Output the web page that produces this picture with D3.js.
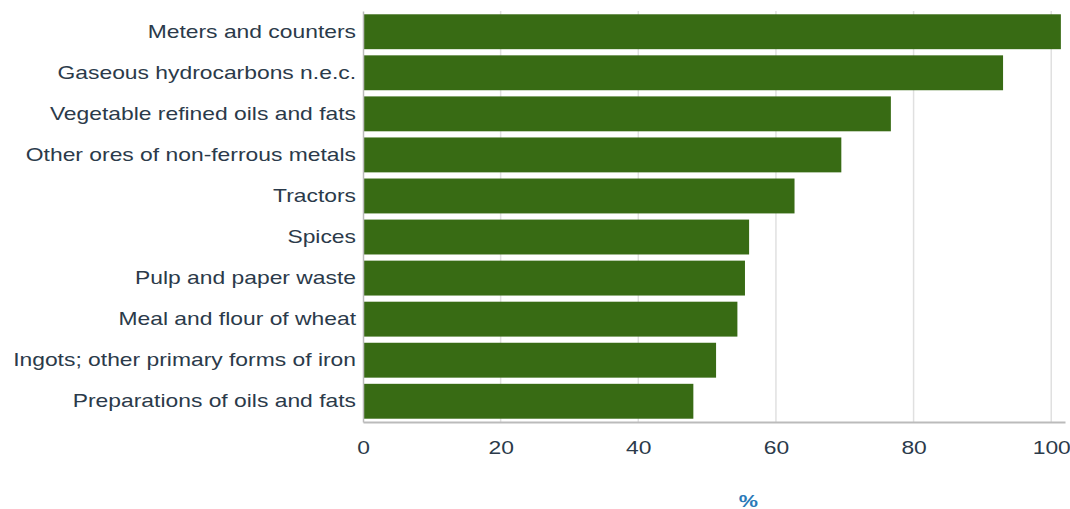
<!DOCTYPE html>
<html>
<head>
<meta charset="utf-8">
<script src="https://cdn.jsdelivr.net/npm/d3@7"></script>
<style>
  body { margin: 0; background: #fff; }
  svg text { font-family: "Liberation Sans", Arial, sans-serif; }
</style>
</head>
<body>
<div id="wrapper"></div>
<script>
const categories = [
    "Meters and counters",
    "Gaseous hydrocarbons n.e.c.",
    "Vegetable refined oils and fats",
    "Other ores of non-ferrous metals",
    "Tractors",
    "Spices",
    "Pulp and paper waste",
    "Meal and flour of wheat",
    "Ingots; other primary forms of iron",
    "Preparations of oils and fats"
];
const values = [101.4, 93.0, 76.7, 69.5, 62.7, 56.1, 55.5, 54.4, 51.3, 48.0];
const xTicks = [0, 20, 40, 60, 80, 100];
const axisTitle = "%";

const data = categories.map((c, i) => ({ name: c, value: values[i] }));

const dimension = {
    width: 1070,
    height: 509,
    margin: { top: 11, left: 363, bottom: 87, right: 5 }
};
dimension.boundedWidth = dimension.width - dimension.margin.left - dimension.margin.right;
dimension.boundedHeight = dimension.height - dimension.margin.top - dimension.margin.bottom;

const svg = d3.select("#wrapper").append("svg")
    .attr("width", dimension.width)
    .attr("height", dimension.height);

const bounded = svg.append("g")
    .attr("transform", `translate(${dimension.margin.left},${dimension.margin.top})`);

const xScaler = d3.scaleLinear()
    .domain([0, 102])
    .range([0, dimension.boundedWidth]);

const yScaler = d3.scaleBand()
    .domain(categories)
    .range([0, dimension.boundedHeight])
    .paddingInner(0.15)
    .paddingOuter(0.08);

// gridlines
bounded.append("g")
    .selectAll("line")
    .data(xTicks.slice(1))
    .join("line")
    .attr("x1", d => xScaler(d))
    .attr("x2", d => xScaler(d))
    .attr("y1", 0)
    .attr("y2", dimension.boundedHeight)
    .attr("stroke", "#e0e0e0")
    .attr("stroke-width", 1.5);

// bars
bounded.append("g")
    .selectAll("rect")
    .data(data)
    .join("rect")
    .attr("x", 0)
    .attr("y", d => yScaler(d.name))
    .attr("width", d => xScaler(d.value))
    .attr("height", yScaler.bandwidth())
    .attr("fill", "#386b14");

// all text in the source is drawn a bit wide
const stretch = 1.27;

// y axis
const yAxis = d3.axisLeft(yScaler).tickSize(0).tickPadding(7);
const yG = bounded.append("g").call(yAxis);
yG.select(".domain").attr("stroke", "#bbb").attr("stroke-width", 1.5);
yG.selectAll("text")
    .attr("font-size", 18)
    .attr("fill", "#2b3a4a")
    .attr("x", -7 / stretch)
    .attr("transform", `scale(${stretch},1)`);

// x axis
const xAxis = d3.axisBottom(xScaler).tickValues(xTicks).tickSize(0).tickPadding(19);
const xG = bounded.append("g")
    .attr("transform", `translate(0,${dimension.boundedHeight})`)
    .call(xAxis);
xG.select(".domain").attr("stroke", "#bbb").attr("stroke-width", 2);
xG.selectAll("text")
    .attr("font-size", 18)
    .attr("fill", "#2b3a4a")
    .attr("transform", `scale(${stretch},1)`);

// axis title
const titleX = dimension.margin.left + xScaler(56);
svg.append("text")
    .attr("x", titleX / stretch)
    .attr("y", 507)
    .attr("transform", `scale(${stretch},1)`)
    .attr("text-anchor", "middle")
    .attr("font-size", 17)
    .attr("font-weight", "bold")
    .attr("fill", "#2a7ab8")
    .text(axisTitle);
</script>
</body>
</html>
